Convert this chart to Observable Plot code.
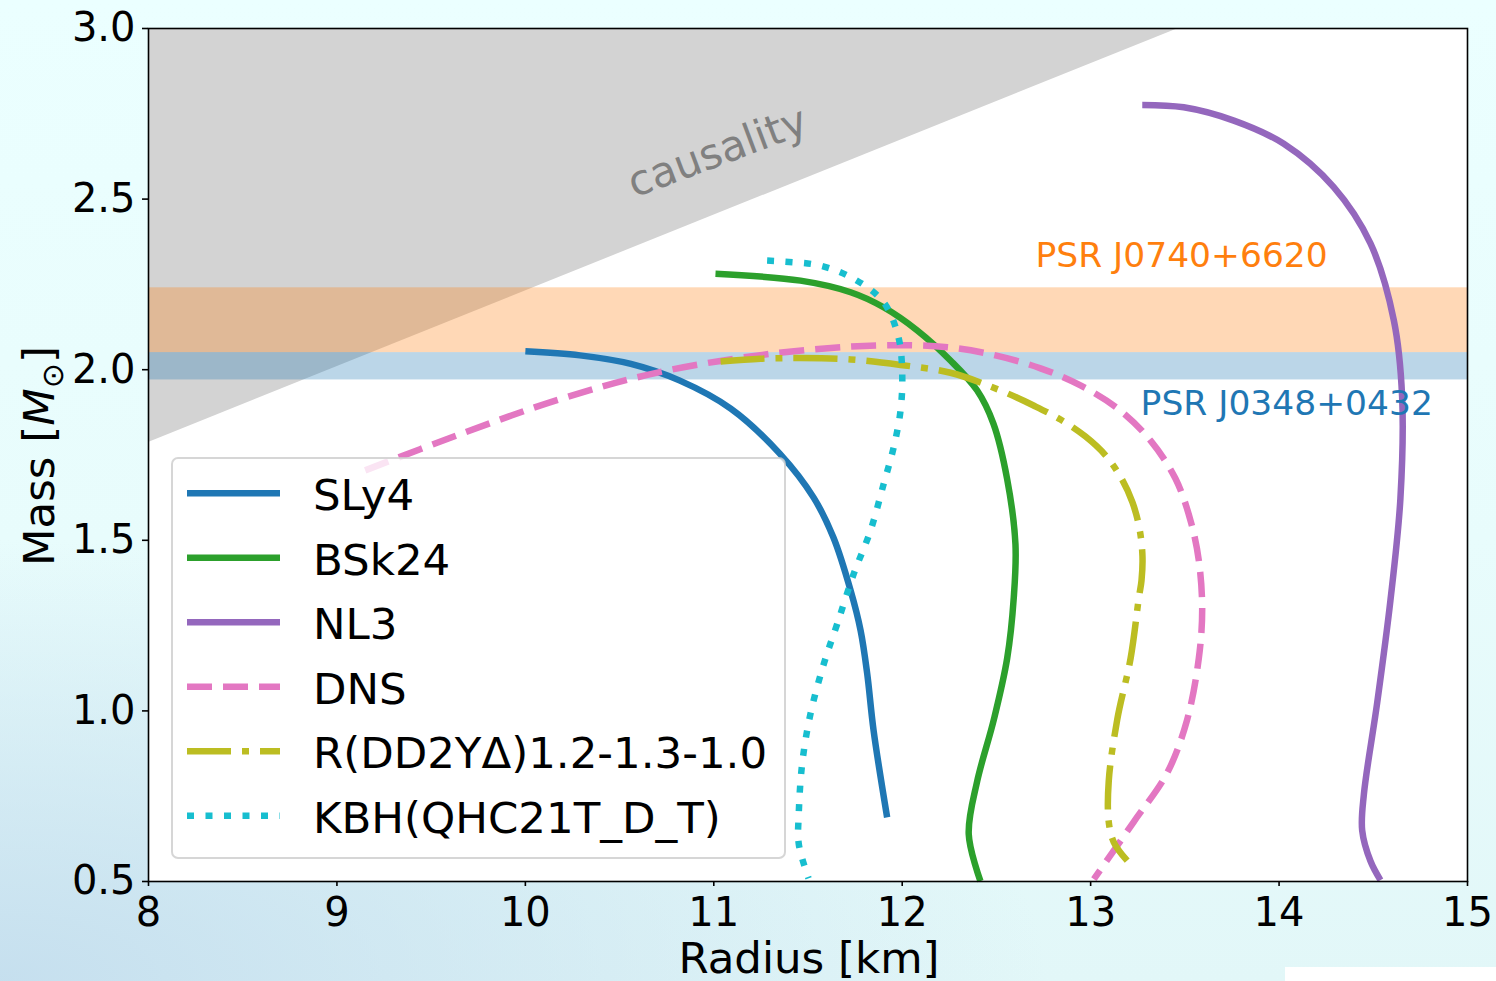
<!DOCTYPE html>
<html><head><meta charset="utf-8">
<script src="https://cdn.jsdelivr.net/npm/d3@7"></script>
<script src="https://cdn.jsdelivr.net/npm/@observablehq/plot@0.6"></script>
<style>
html,body{margin:0;padding:0;width:1496px;height:981px;overflow:hidden;}
body{position:relative;font-family:"DejaVu Sans";
 background:
  radial-gradient(ellipse 70% 45% at 0% 100%, rgba(196,222,238,0.95) 0%, rgba(196,222,238,0) 100%),
  linear-gradient(to bottom, #ebffff 0%, #e8fcfc 55%, #e2f7f8 100%);}
#chart{position:absolute;left:0;top:0;}
#patch{position:absolute;left:1285px;top:967px;width:211px;height:14px;background:#fff;}
</style></head><body>
<div id="chart"></div><div id="patch"></div>
<script>
// ---- axes ----
const xDomain = [8, 15];
const yDomain = [0.5, 3.0];
const xTicks = [8, 9, 10, 11, 12, 13, 14, 15];
const yTicks = [0.5, 1.0, 1.5, 2.0, 2.5, 3.0];

// ---- causality limit line (R, M) ----
const causalR = [8.0, 13.466];
const causalM = [1.787, 3.0];

// ---- pulsar mass bands ----
const bandNames = ["PSR J0740+6620", "PSR J0348+0432"];
const bandLo = [2.05, 1.97];
const bandHi = [2.24, 2.05];

// ---- mass-radius curves ----
const seriesNames = ["SLy4", "BSk24", "NL3", "DNS", "R(DD2YΔ)1.2-1.3-1.0", "KBH(QHC21T_D_T)"];

const sly4R = [10.00, 10.29, 10.56, 10.82, 11.09, 11.35, 11.53, 11.635, 11.726, 11.779, 11.814, 11.848, 11.92];
const sly4M = [2.054, 2.042, 2.017, 1.968, 1.886, 1.754, 1.625, 1.508, 1.353, 1.236, 1.110, 0.943, 0.688];

const bsk24R = [11.009, 11.460, 11.726, 11.901, 12.080, 12.256, 12.398, 12.484, 12.557, 12.601, 12.592, 12.557, 12.486, 12.398, 12.353, 12.415];
const bsk24M = [2.281, 2.261, 2.227, 2.183, 2.115, 2.027, 1.939, 1.842, 1.679, 1.488, 1.332, 1.154, 0.974, 0.794, 0.639, 0.501];

const nl3R = [13.274, 13.494, 13.760, 14.025, 14.290, 14.485, 14.609, 14.653, 14.644, 14.591, 14.521, 14.450, 14.441, 14.485, 14.538];
const nl3M = [2.776, 2.769, 2.730, 2.662, 2.535, 2.370, 2.145, 1.921, 1.623, 1.324, 1.025, 0.755, 0.650, 0.560, 0.504];

const dnsR = [9.150, 9.634, 10.192, 10.713, 11.309, 11.868, 12.240, 12.495, 12.734, 12.946, 13.158, 13.318, 13.450, 13.530, 13.574, 13.592, 13.574, 13.512, 13.406, 13.229, 13.017];
const dnsM = [1.705, 1.807, 1.915, 1.993, 2.047, 2.071, 2.066, 2.042, 2.004, 1.954, 1.880, 1.792, 1.681, 1.558, 1.441, 1.297, 1.154, 0.974, 0.818, 0.675, 0.507];

const dd2R = [11.036, 11.248, 11.460, 11.726, 11.991, 12.256, 12.522, 12.697, 12.840, 12.973, 13.079, 13.164, 13.222, 13.259, 13.275, 13.270, 13.256, 13.212, 13.141, 13.096, 13.096, 13.123, 13.194];
const dd2M = [2.024, 2.032, 2.034, 2.030, 2.014, 1.991, 1.939, 1.895, 1.854, 1.804, 1.749, 1.681, 1.611, 1.535, 1.453, 1.382, 1.332, 1.154, 0.974, 0.794, 0.675, 0.615, 0.561];

const kbhR = [11.283, 11.370, 11.566, 11.741, 11.901, 11.980, 12.000, 11.991, 11.955, 11.902, 11.832, 11.743, 11.655, 11.584, 11.513, 11.469, 11.451, 11.451, 11.503];
const kbhM = [2.320, 2.317, 2.305, 2.267, 2.198, 2.095, 1.988, 1.880, 1.773, 1.666, 1.529, 1.402, 1.255, 1.138, 0.991, 0.845, 0.698, 0.610, 0.509];

// ---- styles ----
const seriesColors = ["#1f77b4", "#2ca02c", "#9467bd", "#e377c2", "#bcbd22", "#17becf"];
const seriesDash = [null, null, null, "25,11", "44,11,7,11", "7,11.5"];
const bandColors = ["#ff7f0e", "#1f77b4"];

const seriesR = [sly4R, bsk24R, nl3R, dnsR, dd2R, kbhR];
const seriesM = [sly4M, bsk24M, nl3M, dnsM, dd2M, kbhM];
const series = seriesNames.map((name, i) => ({
  name, color: seriesColors[i], dash: seriesDash[i],
  pts: seriesR[i].map((r, j) => ({R: r, M: seriesM[i][j]}))
}));
const causal = causalR.map((r, i) => ({R: r, M: causalM[i]}));

const LW = 6.5;
const marks = [
  Plot.frame({fill: "white", stroke: null}),
  Plot.areaY(causal, {x: "R", y1: "M", y2: yDomain[1], fill: "#d3d3d3"}),
  ...bandNames.map((n, i) => Plot.rect([n], {x1: xDomain[0], x2: xDomain[1], y1: bandLo[i], y2: bandHi[i], fill: bandColors[i], fillOpacity: 0.3})),
  ...series.map(s => Plot.line(s.pts, {x: "R", y: "M", stroke: s.color, strokeWidth: LW,
      strokeDasharray: s.dash || undefined, strokeLinecap: "butt", strokeLinejoin: "round", curve: "catmull-rom"})),
  Plot.text(["causality"], {x: 11.02, y: 2.637, text: d => d, rotate: -20.5, fontSize: 42, fill: "#808080", textAnchor: "middle", lineAnchor: "middle"}),
  Plot.text([bandNames[0]], {x: 12.707, y: 2.332, text: d => d, fontSize: 34.5, fill: bandColors[0], textAnchor: "start", lineAnchor: "middle"}),
  Plot.text([bandNames[1]], {x: 13.265, y: 1.900, text: d => d, fontSize: 34.5, fill: bandColors[1], textAnchor: "start", lineAnchor: "middle"}),
  Plot.axisX({ticks: xTicks, tickSize: 5, tickPadding: 11, fontSize: 40, strokeWidth: 1.6, label: null, tickFormat: d => String(d)}),
  Plot.axisY({ticks: yTicks, tickSize: 6, tickPadding: 7, fontSize: 40, strokeWidth: 1.6, label: null, tickFormat: d => d.toFixed(1)}),
  Plot.frame({stroke: "black", strokeWidth: 1.6})
];

const plot = Plot.plot({
  width: 1496, height: 981,
  marginLeft: 148, marginRight: 29, marginTop: 28, marginBottom: 100,
  x: {domain: xDomain},
  y: {domain: yDomain},
  style: {background: "transparent", fontFamily: "DejaVu Sans", fontSize: "40px", color: "black", overflow: "visible"},
  marks
});
document.getElementById("chart").appendChild(plot);

// ---- axis titles and legend (overlay) ----
const svg = d3.select(plot);
svg.append("text").attr("x", 809).attr("y", 973).attr("text-anchor", "middle")
  .attr("font-size", 43.5).attr("fill", "black").text("Radius [km]");
const yl = svg.append("text").attr("transform", "translate(53.5,456) rotate(-90)")
  .attr("text-anchor", "middle").attr("font-size", 43.5).attr("fill", "black");
yl.append("tspan").text("Mass [");
yl.append("tspan").attr("font-style", "italic").text("M");
yl.append("tspan").attr("font-size", 30).attr("dy", 9).text("⊙");
yl.append("tspan").attr("dy", -9).text("]");

const lg = svg.append("g").attr("text-anchor", "start");
lg.append("rect").attr("x", 172).attr("y", 458).attr("width", 613).attr("height", 400)
  .attr("rx", 6).attr("fill", "white").attr("fill-opacity", 0.8)
  .attr("stroke", "#cccccc").attr("stroke-opacity", 0.8).attr("stroke-width", 2);
series.forEach((s, i) => {
  const yy = 493.3 + i * 64.5;
  lg.append("line").attr("x1", 187).attr("x2", 280).attr("y1", yy).attr("y2", yy)
    .attr("stroke", s.color).attr("stroke-width", LW).attr("stroke-dasharray", s.dash)
    .attr("stroke-linecap", "butt");
  lg.append("text").attr("x", 313).attr("y", yy + 16.7).attr("font-size", 43.5)
    .attr("text-anchor", "start").attr("fill", "black").text(s.name);
});
</script>
</body></html>
